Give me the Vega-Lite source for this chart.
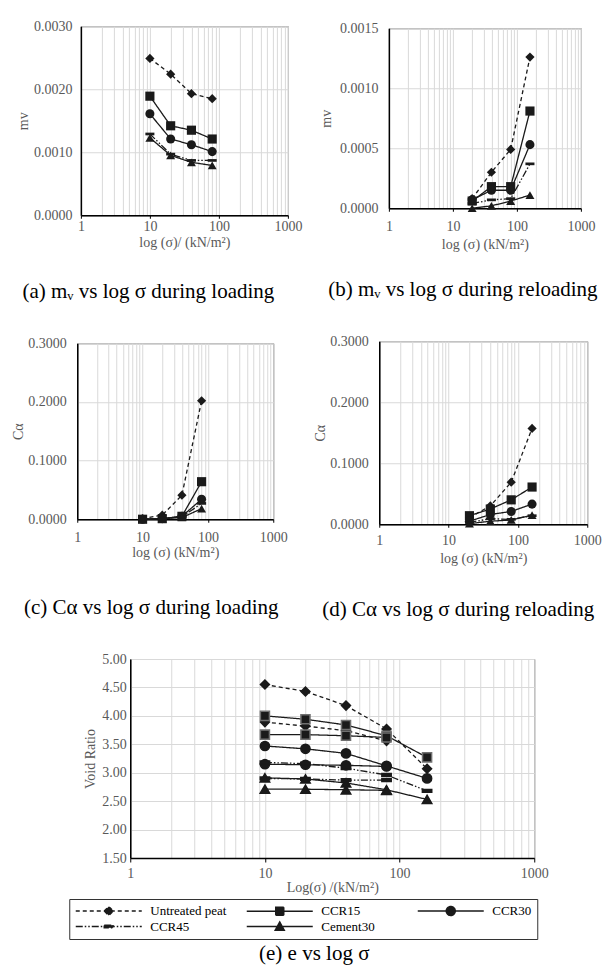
{
  "$schema": "https://vega.github.io/schema/vega-lite/v6.json",
  "background": "white",
  "padding": {"left": 11, "top": 18, "right": 2, "bottom": 2},
  "datasets": {
    "a": [
      {"s": "Untreated peat", "x": 10, "y": 0.00249}, {"s": "Untreated peat", "x": 20, "y": 0.00224}, {"s": "Untreated peat", "x": 40, "y": 0.00193}, {"s": "Untreated peat", "x": 80, "y": 0.00185},
      {"s": "CCR15", "x": 10, "y": 0.00189}, {"s": "CCR15", "x": 20, "y": 0.00142}, {"s": "CCR15", "x": 40, "y": 0.00135}, {"s": "CCR15", "x": 80, "y": 0.00121},
      {"s": "CCR30", "x": 10, "y": 0.00161}, {"s": "CCR30", "x": 20, "y": 0.00121}, {"s": "CCR30", "x": 40, "y": 0.00112}, {"s": "CCR30", "x": 80, "y": 0.00101},
      {"s": "CCR45", "x": 10, "y": 0.00129}, {"s": "CCR45", "x": 20, "y": 0.00097}, {"s": "CCR45", "x": 40, "y": 0.00087}, {"s": "CCR45", "x": 80, "y": 0.00087},
      {"s": "Cement30", "x": 10, "y": 0.00123}, {"s": "Cement30", "x": 20, "y": 0.00095}, {"s": "Cement30", "x": 40, "y": 0.00084}, {"s": "Cement30", "x": 80, "y": 0.00079}
    ],
    "b": [
      {"s": "Untreated peat", "x": 20, "y": 0.00008}, {"s": "Untreated peat", "x": 40, "y": 0.0003}, {"s": "Untreated peat", "x": 80, "y": 0.00049}, {"s": "Untreated peat", "x": 160, "y": 0.00126},
      {"s": "CCR15", "x": 20, "y": 0.00006}, {"s": "CCR15", "x": 40, "y": 0.00018}, {"s": "CCR15", "x": 80, "y": 0.00018}, {"s": "CCR15", "x": 160, "y": 0.00081},
      {"s": "CCR30", "x": 20, "y": 0.00007}, {"s": "CCR30", "x": 40, "y": 0.00015}, {"s": "CCR30", "x": 80, "y": 0.00015}, {"s": "CCR30", "x": 160, "y": 0.00053},
      {"s": "CCR45", "x": 20, "y": 0.00004}, {"s": "CCR45", "x": 40, "y": 0.00007}, {"s": "CCR45", "x": 80, "y": 0.00008}, {"s": "CCR45", "x": 160, "y": 0.00037},
      {"s": "Cement30", "x": 20, "y": 0.0}, {"s": "Cement30", "x": 40, "y": 0.00002}, {"s": "Cement30", "x": 80, "y": 0.00006}, {"s": "Cement30", "x": 160, "y": 0.00011}
    ],
    "c": [
      {"s": "Untreated peat", "x": 10, "y": 0.001}, {"s": "Untreated peat", "x": 20, "y": 0.007}, {"s": "Untreated peat", "x": 40, "y": 0.041}, {"s": "Untreated peat", "x": 80, "y": 0.202},
      {"s": "CCR15", "x": 10, "y": 0.0}, {"s": "CCR15", "x": 20, "y": 0.001}, {"s": "CCR15", "x": 40, "y": 0.005}, {"s": "CCR15", "x": 80, "y": 0.064},
      {"s": "CCR30", "x": 10, "y": 0.0}, {"s": "CCR30", "x": 20, "y": 0.001}, {"s": "CCR30", "x": 40, "y": 0.005}, {"s": "CCR30", "x": 80, "y": 0.034},
      {"s": "CCR45", "x": 10, "y": 0.0}, {"s": "CCR45", "x": 20, "y": 0.001}, {"s": "CCR45", "x": 40, "y": 0.004}, {"s": "CCR45", "x": 80, "y": 0.027},
      {"s": "Cement30", "x": 10, "y": 0.0}, {"s": "Cement30", "x": 20, "y": 0.001}, {"s": "Cement30", "x": 40, "y": 0.003}, {"s": "Cement30", "x": 80, "y": 0.018}
    ],
    "d": [
      {"s": "Untreated peat", "x": 20, "y": 0.011}, {"s": "Untreated peat", "x": 40, "y": 0.03}, {"s": "Untreated peat", "x": 80, "y": 0.069}, {"s": "Untreated peat", "x": 160, "y": 0.157},
      {"s": "CCR15", "x": 20, "y": 0.014}, {"s": "CCR15", "x": 40, "y": 0.025}, {"s": "CCR15", "x": 80, "y": 0.04}, {"s": "CCR15", "x": 160, "y": 0.061},
      {"s": "CCR30", "x": 20, "y": 0.005}, {"s": "CCR30", "x": 40, "y": 0.016}, {"s": "CCR30", "x": 80, "y": 0.021}, {"s": "CCR30", "x": 160, "y": 0.033},
      {"s": "CCR45", "x": 20, "y": 0.003}, {"s": "CCR45", "x": 40, "y": 0.009}, {"s": "CCR45", "x": 80, "y": 0.008}, {"s": "CCR45", "x": 160, "y": 0.014},
      {"s": "Cement30", "x": 20, "y": 0.001}, {"s": "Cement30", "x": 40, "y": 0.005}, {"s": "Cement30", "x": 80, "y": 0.007}, {"s": "Cement30", "x": 160, "y": 0.015}
    ],
    "e": [
      {"s": "Untreated peat", "g": "L", "x": 10, "y": 4.55}, {"s": "Untreated peat", "g": "L", "x": 20, "y": 4.43}, {"s": "Untreated peat", "g": "L", "x": 40, "y": 4.18}, {"s": "Untreated peat", "g": "L", "x": 80, "y": 3.77}, {"s": "Untreated peat", "g": "L", "x": 160, "y": 3.07},
      {"s": "Untreated peat", "g": "R", "x": 10, "y": 3.89}, {"s": "Untreated peat", "g": "R", "x": 20, "y": 3.82}, {"s": "Untreated peat", "g": "R", "x": 40, "y": 3.74}, {"s": "Untreated peat", "g": "R", "x": 80, "y": 3.56},
      {"s": "CCR15", "g": "L", "x": 10, "y": 4.0}, {"s": "CCR15", "g": "L", "x": 20, "y": 3.94}, {"s": "CCR15", "g": "L", "x": 40, "y": 3.84}, {"s": "CCR15", "g": "L", "x": 80, "y": 3.65}, {"s": "CCR15", "g": "L", "x": 160, "y": 3.27},
      {"s": "CCR15", "g": "R", "x": 10, "y": 3.67}, {"s": "CCR15", "g": "R", "x": 20, "y": 3.67}, {"s": "CCR15", "g": "R", "x": 40, "y": 3.65}, {"s": "CCR15", "g": "R", "x": 80, "y": 3.62},
      {"s": "CCR30", "g": "L", "x": 10, "y": 3.47}, {"s": "CCR30", "g": "L", "x": 20, "y": 3.42}, {"s": "CCR30", "g": "L", "x": 40, "y": 3.34}, {"s": "CCR30", "g": "L", "x": 80, "y": 3.12}, {"s": "CCR30", "g": "L", "x": 160, "y": 2.9},
      {"s": "CCR30", "g": "R", "x": 10, "y": 3.15}, {"s": "CCR30", "g": "R", "x": 20, "y": 3.14}, {"s": "CCR30", "g": "R", "x": 40, "y": 3.13}, {"s": "CCR30", "g": "R", "x": 80, "y": 3.11},
      {"s": "CCR45", "g": "L", "x": 10, "y": 3.18}, {"s": "CCR45", "g": "L", "x": 20, "y": 3.16}, {"s": "CCR45", "g": "L", "x": 40, "y": 3.08}, {"s": "CCR45", "g": "L", "x": 80, "y": 2.96}, {"s": "CCR45", "g": "L", "x": 160, "y": 2.68},
      {"s": "CCR45", "g": "R", "x": 10, "y": 2.9}, {"s": "CCR45", "g": "R", "x": 20, "y": 2.89}, {"s": "CCR45", "g": "R", "x": 40, "y": 2.87}, {"s": "CCR45", "g": "R", "x": 80, "y": 2.87},
      {"s": "Cement30", "g": "L", "x": 10, "y": 2.91}, {"s": "Cement30", "g": "L", "x": 20, "y": 2.89}, {"s": "Cement30", "g": "L", "x": 40, "y": 2.82}, {"s": "Cement30", "g": "L", "x": 80, "y": 2.7}, {"s": "Cement30", "g": "L", "x": 160, "y": 2.53},
      {"s": "Cement30", "g": "R", "x": 10, "y": 2.71}, {"s": "Cement30", "g": "R", "x": 20, "y": 2.71}, {"s": "Cement30", "g": "R", "x": 40, "y": 2.7}, {"s": "Cement30", "g": "R", "x": 80, "y": 2.69}
    ]
  },
  "vconcat": [
    {
      "hconcat": [
        {
          "width": 207, "height": 189,
          "title": {"text": "(a) mᵥ vs log σ during loading", "orient": "bottom", "offset": 32, "dx": -36},
          "data": {"name": "a"},
          "encoding": {
            "x": {"field": "x", "type": "quantitative", "scale": {"type": "log", "domain": [1, 1000], "nice": false},
              "axis": {"title": "log (σ)/ (kN/m²)", "values": [1,2,3,4,5,6,7,8,9,10,20,30,40,50,60,70,80,90,100,200,300,400,500,600,700,800,900,1000], "format": "d",
                "labelExpr": "(datum.value==1||datum.value==10||datum.value==100||datum.value==1000) ? datum.label : ''",
                "tickOpacity": {"condition": {"test": "datum.value==1||datum.value==10||datum.value==100||datum.value==1000", "value": 1}, "value": 0},
                "labelFlush": false, "labelOverlap": false, "tickSize": 3, "labelPadding": 1, "titlePadding": 2}},
            "y": {"field": "y", "type": "quantitative", "scale": {"domain": [0, 0.003], "nice": false},
              "axis": {"title": "mv", "values": [0, 0.001, 0.002, 0.003], "format": ".4f", "labelPadding": 9, "titlePadding": 3}}
          },
          "layer": [
            {"mark": {"type": "line", "color": "#1a1a1a", "strokeWidth": 1.3},
              "encoding": {"strokeDash": {"field": "s", "type": "nominal", "legend": null,
                "scale": {"domain": ["Untreated peat", "CCR15", "CCR30", "CCR45", "Cement30"], "range": [[4, 3], [1, 0], [1, 0], [7, 2, 1.5, 2, 1.5, 2], [1, 0]]}}}},
            {"mark": {"type": "point", "filled": true, "color": "#1a1a1a", "opacity": 1},
              "encoding": {
                "shape": {"field": "s", "type": "nominal", "legend": null,
                  "scale": {"domain": ["Untreated peat", "CCR15", "CCR30", "CCR45", "Cement30"], "range": ["diamond", "square", "circle", "M-1,-0.3H1V0.3H-1Z", "triangle-up"]}},
                "size": {"field": "s", "type": "nominal", "legend": null,
                  "scale": {"domain": ["Untreated peat", "CCR15", "CCR30", "CCR45", "Cement30"], "range": [85, 80, 90, 100, 100]}}}}
          ]
        },
        {
          "width": 192, "height": 180,
          "title": {"text": "(b) mᵥ vs log σ during reloading", "orient": "bottom", "offset": 28, "dx": -22},
          "data": {"name": "b"},
          "encoding": {
            "x": {"field": "x", "type": "quantitative", "scale": {"type": "log", "domain": [1, 1000], "nice": false},
              "axis": {"title": "log (σ) (kN/m²)", "values": [1,2,3,4,5,6,7,8,9,10,20,30,40,50,60,70,80,90,100,200,300,400,500,600,700,800,900,1000], "format": "d",
                "labelExpr": "(datum.value==1||datum.value==10||datum.value==100||datum.value==1000) ? datum.label : ''",
                "tickOpacity": {"condition": {"test": "datum.value==1||datum.value==10||datum.value==100||datum.value==1000", "value": 1}, "value": 0},
                "labelFlush": false, "labelOverlap": false, "tickSize": 3, "labelPadding": 8, "titlePadding": 4}},
            "y": {"field": "y", "type": "quantitative", "scale": {"domain": [0, 0.0015], "nice": false},
              "axis": {"title": "mv", "values": [0, 0.0005, 0.001, 0.0015], "format": ".4f", "labelPadding": 11, "titlePadding": 6}}
          },
          "layer": [
            {"mark": {"type": "line", "color": "#1a1a1a", "strokeWidth": 1.3},
              "encoding": {"strokeDash": {"field": "s", "type": "nominal", "legend": null,
                "scale": {"domain": ["Untreated peat", "CCR15", "CCR30", "CCR45", "Cement30"], "range": [[4, 3], [1, 0], [1, 0], [7, 2, 1.5, 2, 1.5, 2], [1, 0]]}}}},
            {"mark": {"type": "point", "filled": true, "color": "#1a1a1a", "opacity": 1},
              "encoding": {
                "shape": {"field": "s", "type": "nominal", "legend": null,
                  "scale": {"domain": ["Untreated peat", "CCR15", "CCR30", "CCR45", "Cement30"], "range": ["diamond", "square", "circle", "M-1,-0.3H1V0.3H-1Z", "triangle-up"]}},
                "size": {"field": "s", "type": "nominal", "legend": null,
                  "scale": {"domain": ["Untreated peat", "CCR15", "CCR30", "CCR45", "Cement30"], "range": [85, 80, 90, 100, 100]}}}}
          ]
        }
      ],
      "spacing": 16,
      "center": true
    },
    {
      "hconcat": [
        {
          "width": 196, "height": 176,
          "title": {"text": "(c) Cα vs log σ  during loading", "orient": "bottom", "offset": 38, "dx": -24},
          "data": {"name": "c"},
          "encoding": {
            "x": {"field": "x", "type": "quantitative", "scale": {"type": "log", "domain": [1, 1000], "nice": false},
              "axis": {"title": "log (σ) (kN/m²)", "values": [1,2,3,4,5,6,7,8,9,10,20,30,40,50,60,70,80,90,100,200,300,400,500,600,700,800,900,1000], "format": "d",
                "labelExpr": "(datum.value==1||datum.value==10||datum.value==100||datum.value==1000) ? datum.label : ''",
                "tickOpacity": {"condition": {"test": "datum.value==1||datum.value==10||datum.value==100||datum.value==1000", "value": 1}, "value": 0},
                "labelFlush": false, "labelOverlap": false, "tickSize": 3, "labelPadding": 8, "titlePadding": 1}},
            "y": {"field": "y", "type": "quantitative", "scale": {"domain": [0, 0.3], "nice": false},
              "axis": {"title": "Cα", "values": [0, 0.1, 0.2, 0.3], "format": ".4f", "labelPadding": 11, "titlePadding": 2}}
          },
          "layer": [
            {"mark": {"type": "line", "color": "#1a1a1a", "strokeWidth": 1.3},
              "encoding": {"strokeDash": {"field": "s", "type": "nominal", "legend": null,
                "scale": {"domain": ["Untreated peat", "CCR15", "CCR30", "CCR45", "Cement30"], "range": [[4, 3], [1, 0], [1, 0], [7, 2, 1.5, 2, 1.5, 2], [1, 0]]}}}},
            {"mark": {"type": "point", "filled": true, "color": "#1a1a1a", "opacity": 1},
              "encoding": {
                "shape": {"field": "s", "type": "nominal", "legend": null,
                  "scale": {"domain": ["Untreated peat", "CCR15", "CCR30", "CCR45", "Cement30"], "range": ["diamond", "square", "circle", "M-1,-0.3H1V0.3H-1Z", "triangle-up"]}},
                "size": {"field": "s", "type": "nominal", "legend": null,
                  "scale": {"domain": ["Untreated peat", "CCR15", "CCR30", "CCR45", "Cement30"], "range": [85, 80, 90, 100, 100]}}}}
          ]
        },
        {
          "width": 208, "height": 183,
          "title": {"text": "(d) Cα vs log σ  during reloading", "orient": "bottom", "offset": 34, "dx": -25},
          "data": {"name": "d"},
          "encoding": {
            "x": {"field": "x", "type": "quantitative", "scale": {"type": "log", "domain": [1, 1000], "nice": false},
              "axis": {"title": "log (σ) (kN/m²)", "values": [1,2,3,4,5,6,7,8,9,10,20,30,40,50,60,70,80,90,100,200,300,400,500,600,700,800,900,1000], "format": "d",
                "labelExpr": "(datum.value==1||datum.value==10||datum.value==100||datum.value==1000) ? datum.label : ''",
                "tickOpacity": {"condition": {"test": "datum.value==1||datum.value==10||datum.value==100||datum.value==1000", "value": 1}, "value": 0},
                "labelFlush": false, "labelOverlap": false, "tickSize": 3, "labelPadding": 6, "titlePadding": 4}},
            "y": {"field": "y", "type": "quantitative", "scale": {"domain": [0, 0.3], "nice": false},
              "axis": {"title": "Cα", "values": [0, 0.1, 0.2, 0.3], "format": ".4f", "labelPadding": 11, "titlePadding": 2}}
          },
          "layer": [
            {"mark": {"type": "line", "color": "#1a1a1a", "strokeWidth": 1.3},
              "encoding": {"strokeDash": {"field": "s", "type": "nominal", "legend": null,
                "scale": {"domain": ["Untreated peat", "CCR15", "CCR30", "CCR45", "Cement30"], "range": [[4, 3], [1, 0], [1, 0], [7, 2, 1.5, 2, 1.5, 2], [1, 0]]}}}},
            {"mark": {"type": "point", "filled": true, "color": "#1a1a1a", "opacity": 1},
              "encoding": {
                "shape": {"field": "s", "type": "nominal", "legend": null,
                  "scale": {"domain": ["Untreated peat", "CCR15", "CCR30", "CCR45", "Cement30"], "range": ["diamond", "square", "circle", "M-1,-0.3H1V0.3H-1Z", "triangle-up"]}},
                "size": {"field": "s", "type": "nominal", "legend": null,
                  "scale": {"domain": ["Untreated peat", "CCR15", "CCR30", "CCR45", "Cement30"], "range": [85, 80, 90, 100, 100]}}}}
          ]
        }
      ],
      "spacing": 25,
      "center": true
    },
    {
      "width": 404, "height": 199,
      "title": {"text": "(e) e vs log σ", "orient": "bottom", "offset": 3, "dx": -18},
      "data": {"name": "e"},
      "encoding": {
        "x": {"field": "x", "type": "quantitative", "scale": {"type": "log", "domain": [1, 1000], "nice": false},
          "axis": {"title": "Log(σ) /(kN/m²)", "values": [1,2,3,4,5,6,7,8,9,10,20,30,40,50,60,70,80,90,100,200,300,400,500,600,700,800,900,1000], "format": "d",
            "labelExpr": "(datum.value==1||datum.value==10||datum.value==100||datum.value==1000) ? datum.label : ''",
            "tickOpacity": {"condition": {"test": "datum.value==1||datum.value==10||datum.value==100||datum.value==1000", "value": 1}, "value": 0},
            "labelFlush": false, "labelOverlap": false, "tickSize": 4, "labelPadding": 4, "titlePadding": 0}},
        "y": {"field": "y", "type": "quantitative", "scale": {"domain": [1.5, 5], "nice": false},
          "axis": {"title": "Void Ratio", "values": [1.5, 2, 2.5, 3, 3.5, 4, 4.5, 5], "format": ".2f", "labelPadding": 4, "titlePadding": 4}}
      },
      "layer": [
        {"mark": {"type": "line", "color": "#1a1a1a", "strokeWidth": 1.3},
          "encoding": {
            "detail": {"field": "g", "type": "nominal"},
            "strokeDash": {"field": "s", "type": "nominal", "legend": null,
              "scale": {"domain": ["Untreated peat", "CCR15", "CCR30", "CCR45", "Cement30"], "range": [[4, 3], [1, 0], [1, 0], [7, 2, 1.5, 2, 1.5, 2], [1, 0]]}}}},
        {"mark": {"type": "point", "filled": true, "fill": "#1a1a1a", "opacity": 1, "strokeWidth": 1.5},
          "encoding": {
            "shape": {"field": "s", "type": "nominal", "legend": null,
              "scale": {"domain": ["Untreated peat", "CCR15", "CCR30", "CCR45", "Cement30"], "range": ["diamond", "square", "circle", "M-1,-0.3H1V0.3H-1Z", "triangle-up"]}},
            "stroke": {"field": "s", "type": "nominal", "legend": null,
              "scale": {"domain": ["Untreated peat", "CCR15", "CCR30", "CCR45", "Cement30"], "range": ["#1a1a1a", "#707070", "#1a1a1a", "#1a1a1a", "#1a1a1a"]}},
            "size": {"field": "s", "type": "nominal", "legend": null,
              "scale": {"domain": ["Untreated peat", "CCR15", "CCR30", "CCR45", "Cement30"], "range": [80, 90, 150, 100, 110]}}}},
        {"mark": {"type": "point", "filled": true, "fill": "#1a1a1a", "stroke": "#1a1a1a", "opacity": 0, "strokeWidth": 1},
          "encoding": {
            "shape": {"field": "s", "type": "nominal",
              "scale": {"domain": ["Untreated peat", "CCR15", "CCR30", "CCR45", "Cement30"],
                "range": ["M-1,0H12.2M4.7,0L5.6,-0.9L6.5,0L5.6,0.9Z", "M-1,0H12.2M4.8,-0.8H6.4V0.8H4.8Z", "M-1,0H12.2M6.5,0A0.9,0.9,0,1,1,4.7,0A0.9,0.9,0,1,1,6.5,0Z", "M-1,0H12.2M4.7,-0.26H6.5V0.26H4.7Z", "M-1,0H12.2M5.6,-0.9L6.5,0.75L4.7,0.75Z"]},
              "legend": {"orient": "none", "legendX": -61, "legendY": 240, "title": null, "columns": 3, "direction": "horizontal",
                "symbolSize": 100, "labelOffset": 63, "labelFont": "Liberation Serif", "labelFontSize": 13, "labelColor": "#000000", "labelLimit": 300,
                "strokeColor": "#333333", "padding": 5, "rowPadding": 0, "columnPadding": 16, "gridAlign": "all",
                "encode": {"symbols": {"opacity": {"value": 1}, "fill": {"value": "#1a1a1a"}, "stroke": {"value": "#1a1a1a"}, "strokeWidth": {"value": 1}}}}},
            "strokeDash": {"field": "s", "type": "nominal",
              "scale": {"domain": ["Untreated peat", "CCR15", "CCR30", "CCR45", "Cement30"], "range": [[4, 3], [1, 0], [1, 0], [7, 2, 1.5, 2, 1.5, 2], [1, 0]]},
              "legend": {"orient": "none", "legendX": -61, "legendY": 240, "title": null, "columns": 3, "direction": "horizontal",
                "symbolSize": 100, "labelOffset": 63, "labelFont": "Liberation Serif", "labelFontSize": 13, "labelColor": "#000000", "labelLimit": 300,
                "strokeColor": "#333333", "padding": 5, "rowPadding": 0, "columnPadding": 16, "gridAlign": "all",
                "encode": {"symbols": {"opacity": {"value": 1}, "fill": {"value": "#1a1a1a"}, "stroke": {"value": "#1a1a1a"}, "strokeWidth": {"value": 1}}}}}
          }}
      ],
      "resolve": {"scale": {"shape": "independent", "strokeDash": "independent", "size": "independent"}}
    }
  ],
  "spacing": 30,
  "center": true,
  "config": {
    "font": "Liberation Serif",
    "view": {"stroke": "#595959", "strokeWidth": 1},
    "axis": {"labelFont": "Liberation Serif", "labelFontSize": 14, "labelColor": "#595959", "titleFont": "Liberation Serif", "titleFontSize": 14, "titleFontWeight": "normal", "titleColor": "#595959", "domainColor": "#000000", "domainWidth": 1.5, "gridColor": "#d9d9d9", "tickColor": "#000000"},
    "axisY": {"ticks": false},
    "title": {"font": "Liberation Serif", "fontSize": 21, "fontWeight": "normal", "color": "#000000"}
  }
}
